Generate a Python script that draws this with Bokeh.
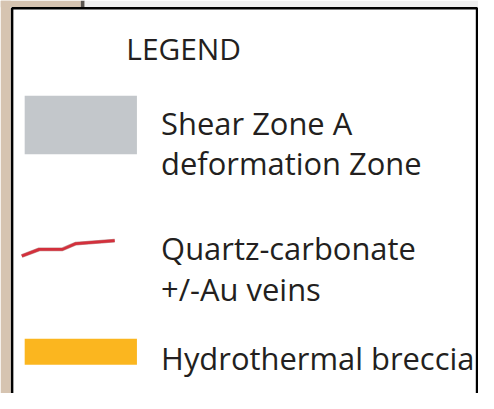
from bokeh.plotting import figure
from bokeh.models import Range1d
from bokeh.core.properties import value
from bokeh.embed import file_html
from bokeh.resources import INLINE

# ---- content ----
title = "LEGEND"
item_kinds = ["box", "line", "box"]
item_labels = [
    ["Shear Zone A", "deformation Zone"],
    ["Quartz-carbonate", "+/-Au veins"],
    ["Hydrothermal breccia"],
]
item_colors = ["#c3c7cb", "#d3303c", "#fbb61f"]
# shape of the vein symbol (relative x, relative y offsets)
vein_dx = [0, 18, 42, 56, 96]
vein_dy = [0, -7, -7, -13, -16]

text_color = "#231f20"
font = value("Open Sans")

# ---- page layout (reference pixel coordinates, scaled into the figure) ----
REF_W, REF_H = 494, 409
W, H = 478, 393
scale = (W / REF_W + H / REF_H) / 2

def fs(px):
    return f"{px * scale:.1f}px"

p = figure(width=W, height=H, output_backend="svg", toolbar_location=None,
           x_range=Range1d(0, REF_W), y_range=Range1d(REF_H, 0),
           min_border=0, background_fill_color="white",
           border_fill_color="white", outline_line_color=None)
p.axis.visible = False
p.grid.visible = False

# surrounding page
p.quad(left=0, right=10.5, top=0, bottom=REF_H, fill_color="#d6c4b1", line_color=None)
p.quad(left=0, right=83, top=0, bottom=7, fill_color="#d6c4b1", line_color=None)
p.quad(left=83, right=87, top=0, bottom=7, fill_color="#5a5550", line_color=None)
p.quad(left=87, right=REF_W, top=0, bottom=7, fill_color="#efefef", line_color=None)

# legend box
p.quad(left=12, right=492.5, top=8, bottom=430, fill_color="white",
       line_color="black", line_width=2.5)

# title
p.text(x=[130], y=[49.5], text=[title], text_font=font, text_font_size=fs(31),
       text_color=text_color, text_baseline="alphabetic")

# items
sym_left, sym_right = 25, 141
text_x = 166
rows = [
    dict(sym_top=99, sym_bot=160, base=127),
    dict(line_y0=266, base=258),
    dict(sym_top=352, sym_bot=379, base=372),
]
line_gap = 42.5
for kind, labels, color, r in zip(item_kinds, item_labels, item_colors, rows):
    if kind == "box":
        p.quad(left=sym_left, right=sym_right, top=r["sym_top"], bottom=r["sym_bot"],
               fill_color=color, line_color=None)
    else:
        xs = [22 + d for d in vein_dx]
        ys = [r["line_y0"] + d for d in vein_dy]
        p.line(xs, ys, line_color="#8a2a2a", line_width=3.8, line_alpha=0.5)
        p.line(xs, ys, line_color=color, line_width=2.7)
    ys = [r["base"] + i * line_gap for i in range(len(labels))]
    p.text(x=[text_x] * len(labels), y=ys, text=labels, text_font=font,
           text_font_size=fs(32), text_color=text_color, text_baseline="alphabetic")

open("out.html", "w").write(file_html(p, INLINE))
